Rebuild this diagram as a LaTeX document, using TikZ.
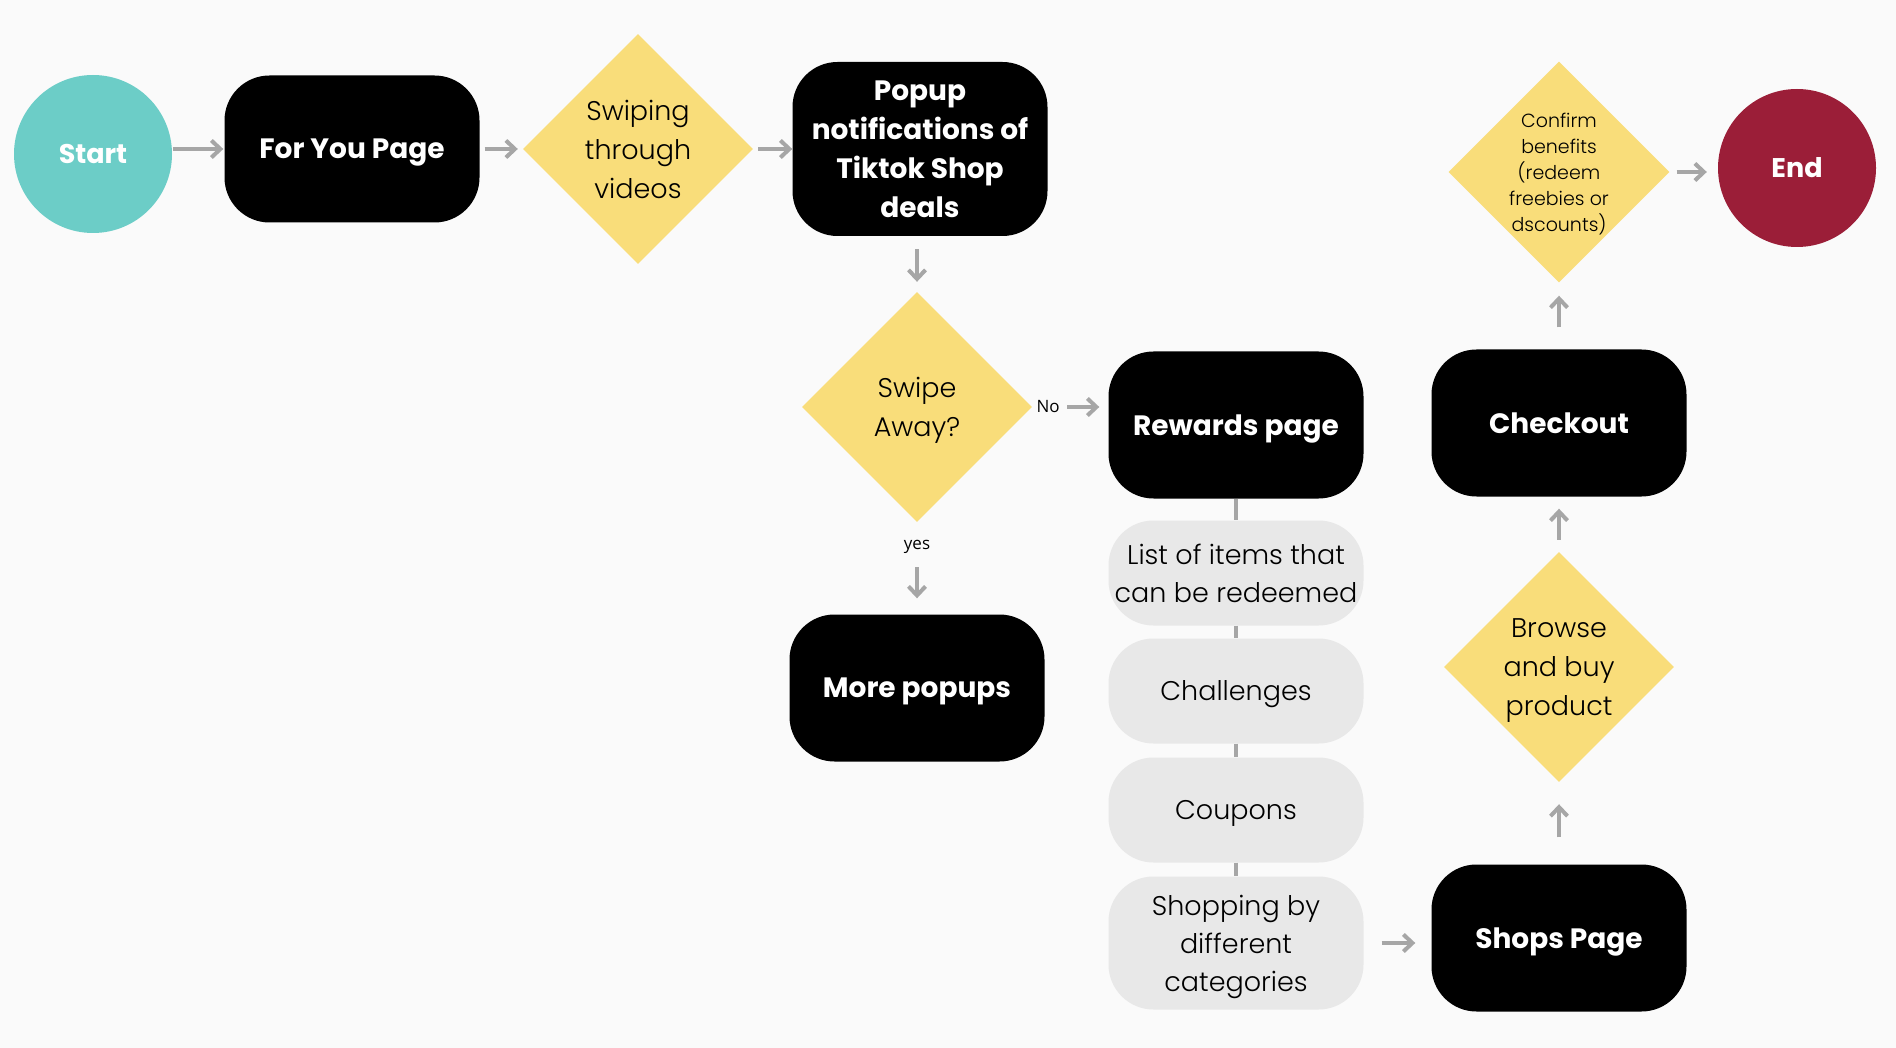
\documentclass[tikz,border=0pt]{standalone}
\usepackage{fontspec}
\setmainfont{Poppins}
\newfontfamily\thinfont{Poppins Light}
\newfontfamily\labelfont{Open Sans}
\usetikzlibrary{shapes.geometric,arrows.meta}
\definecolor{bgcol}{HTML}{FAFAFA}
\definecolor{startcol}{HTML}{6CCDC7}
\definecolor{endcol}{HTML}{9B1E38}
\definecolor{diacol}{HTML}{F9DD7A}
\definecolor{greybox}{HTML}{E8E8E8}
\definecolor{arrowcol}{HTML}{A6A6A6}
\begin{document}
\begin{tikzpicture}[x=1pt,y=-1pt,
  blackbox/.style={rectangle,rounded corners=45pt,fill=black,text=white,minimum width=255pt,minimum height=147pt,align=center,text depth=0pt,font=\bfseries\fontsize{28}{39}\selectfont},
  greyitem/.style={rectangle,rounded corners=45pt,fill=greybox,minimum width=255pt,minimum height=105pt,align=center,text depth=0pt,font=\thinfont\fontsize{27}{38}\selectfont},
  decision/.style={diamond,fill=diacol,minimum width=230pt,minimum height=230pt,inner sep=0pt,align=center,text depth=0pt,font=\thinfont\fontsize{27}{39}\selectfont},
  terminal/.style={circle,minimum size=158pt,text=white,font=\bfseries\fontsize{27}{32}\selectfont},
  flow/.style={draw=arrowcol,line width=4pt,-{Straight Barb[length=9pt,width=17pt]}},
  link/.style={draw=arrowcol,line width=4pt},
  answer/.style={font=\labelfont\fontsize{17}{20}\selectfont}]
\fill[bgcol] (0,0) rectangle (1896,1048);
\node[terminal,fill=startcol] (start) at (93,154) {Start};
\node[blackbox] (foryou) at (352,149) {For You Page};
\node[decision] (swiping) at (638,149) {Swiping\\through\\videos};
\node[blackbox,minimum height=174pt] (popup) at (920,149) {Popup\\notifications of\\Tiktok Shop\\deals};
\node[decision] (swipeaway) at (917,407) {Swipe\\Away?};
\node[blackbox] (more) at (917,688) {More popups};
\node[blackbox] (rewards) at (1236,425) {Rewards page};
\node[greyitem] (items) at (1236,573) {List of items that\\can be redeemed};
\node[greyitem] (challenges) at (1236,691) {Challenges};
\node[greyitem] (coupons) at (1236,810) {Coupons};
\node[greyitem,minimum height=133pt] (categories) at (1236,943) {Shopping by\\different\\categories};
\node[blackbox] (shops) at (1559,938) {Shops Page};
\node[decision] (browse) at (1559,667) {Browse\\and buy\\product};
\node[blackbox] (checkout) at (1559,423) {Checkout};
\node[decision,minimum width=221pt,minimum height=221pt,font=\thinfont\fontsize{19}{26}\selectfont] (confirm) at (1559,172) {Confirm\\benefits\\(redeem\\freebies or\\dscounts)};
\node[terminal,fill=endcol] (finish) at (1797,168) {End};
\node[answer] (no) at ([xshift=16pt]swipeaway.east) {No};
\node[answer] (yes) at ([yshift=-25pt]swipeaway.south) {yes};
\draw[flow,shorten <=1pt,shorten >=1pt] (start.east |- foryou.west) -- (foryou.west);
\draw[flow,shorten <=5pt,shorten >=5pt] (foryou) -- (swiping);
\draw[flow,shorten <=5pt] (swiping) -- (popup);
\draw[flow,shorten <=13pt,shorten >=10pt] (popup.south -| swipeaway) -- (swipeaway.north);
\draw[flow,shorten <=35pt,shorten >=9pt] (swipeaway.east) -- (swipeaway.east -| rewards.west);
\draw[flow,shorten <=45pt,shorten >=16pt] (swipeaway) -- (more);
\draw[link] (rewards) -- (items);
\draw[link] (items) -- (challenges);
\draw[link] (challenges) -- (coupons);
\draw[link] (coupons) -- (categories);
\draw[flow,shorten <=18pt,shorten >=16pt] (categories.east) -- (categories.east -| shops.west);
\draw[flow,shorten <=27pt,shorten >=22pt] (shops) -- (browse);
\draw[flow,shorten <=12pt,shorten >=12pt] (browse) -- (checkout);
\draw[flow,shorten <=22pt,shorten >=13pt] (checkout) -- (confirm);
\draw[flow,shorten <=7pt,shorten >=11pt] (confirm.east) -- (confirm.east -| finish.west);
\end{tikzpicture}
\end{document}
